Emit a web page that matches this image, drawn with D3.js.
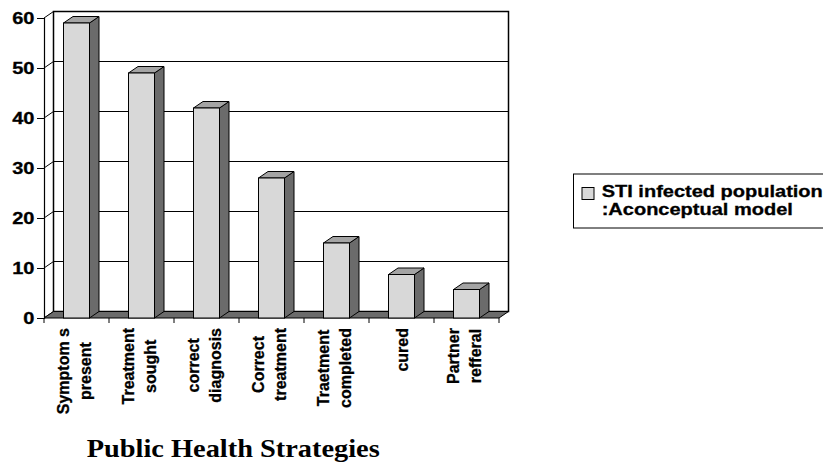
<!DOCTYPE html>
<html>
<head>
<meta charset="utf-8">
<script src="https://cdn.jsdelivr.net/npm/d3@7"></script>
<style>
  html, body { margin: 0; padding: 0; background: #fff; }
  svg { display: block; }
</style>
</head>
<body>
<svg id="chart" width="823" height="462"></svg>
<script>
// ---- data ----
const categories = ["Symptoms present", "Treatment sought", "correct diagnosis", "Correct treatment", "Traetment completed", "cured", "Partner refferal"];
const categoryLines = [["Symptom s", "present"], ["Treatment", "sought"], ["correct", "diagnosis"], ["Correct", "treatment"], ["Traetment", "completed"], ["cured"], ["Partner", "refferal"]];
const values = [59, 49, 42, 28, 15, 8.7, 5.7];
const yTicks = [0, 10, 20, 30, 40, 50, 60];
const seriesName = ["STI infected population", ":Aconceptual model"];
const axisTitle = "Public Health Strategies";

// ---- layout ----
const svg = d3.select("#chart");
const sans = "'Liberation Sans', Arial, sans-serif";
const serif = "'Palatino Linotype', 'Book Antiqua', Palatino, 'Liberation Serif', serif";
const DX = 9.5, DY = 6.5;        // 3-D depth offset
const x = d3.scaleBand().domain(categories).range([44, 499]).paddingInner(0).paddingOuter(0);
const y = d3.scaleLinear().domain([0, 60]).range([318, 18]);
const barW = x.bandwidth() * 0.4;
const cFront = "#d8d8d8", cTop = "#a4a4a4", cSide = "#6b6b6b", cFloor = "#6b6b6b";

const x0 = x.range()[0], x1 = x.range()[1];
const y0 = y(0), yTop = y(60);

// back wall
svg.append("rect")
  .attr("x", x0 + DX).attr("y", yTop - DY)
  .attr("width", x1 - x0).attr("height", y0 - yTop)
  .attr("fill", "#fff");

// grid on back wall and side wall
const grid = svg.append("g").attr("stroke", "#000").attr("stroke-width", 1).attr("fill", "none");
yTicks.filter(t => t > 0 && t < 60).forEach(t => {
  grid.append("line").attr("x1", x0 + DX).attr("x2", x1 + DX)
    .attr("y1", y(t) - DY).attr("y2", y(t) - DY);
});
yTicks.forEach(t => {
  grid.append("line").attr("x1", x0).attr("x2", x0 + DX)
    .attr("y1", y(t)).attr("y2", y(t) - DY);
});

// back wall border
svg.append("rect")
  .attr("x", x0 + DX).attr("y", yTop - DY)
  .attr("width", x1 - x0).attr("height", y0 - yTop)
  .attr("fill", "none").attr("stroke", "#000").attr("stroke-width", 1.5);
// side wall back edge
svg.append("line").attr("x1", x0 + DX).attr("x2", x0 + DX)
  .attr("y1", yTop - DY).attr("y2", y0 - DY).attr("stroke", "#000").attr("stroke-width", 1);

// floor
svg.append("polygon")
  .attr("points", [[x0, y0], [x0 + DX, y0 - DY], [x1 + DX, y0 - DY], [x1, y0]].map(p => p.join(",")).join(" "))
  .attr("fill", cFloor).attr("stroke", "#000").attr("stroke-width", 1).attr("stroke-linejoin", "round");

// front y axis
const yAxis = d3.axisLeft(y).tickValues(yTicks).tickSize(7).tickPadding(2).tickFormat(d3.format("d"));
const gy = svg.append("g").attr("transform", `translate(${x0},0)`).call(yAxis);
gy.select(".domain").attr("stroke", "#000").attr("stroke-width", 1.2);
gy.selectAll(".tick line").attr("stroke", "#000");
gy.selectAll(".tick text")
  .attr("font-family", sans).attr("font-weight", "bold").attr("font-size", 16).attr("fill", "#000")
  .attr("stroke", "#000").attr("stroke-width", 0.3)
  .attr("x", 0).attr("dy", null).attr("y", 0).attr("dominant-baseline", "central")
  .attr("transform", "translate(-9.5,0) scale(1.25,1)");

// bars
const bars = svg.append("g").selectAll("g").data(values).join("g");
bars.each(function (v, i) {
  const g = d3.select(this);
  const bx = x(categories[i]) + (x.bandwidth() - barW) / 2;
  const by = y(v);
  g.append("polygon")
    .attr("points", [[bx + barW, by], [bx + barW + DX, by - DY], [bx + barW + DX, y0 - DY], [bx + barW, y0]].map(p => p.join(",")).join(" "))
    .attr("fill", cSide).attr("stroke", "#000").attr("stroke-width", 1).attr("stroke-linejoin", "round");
  g.append("polygon")
    .attr("points", [[bx, by], [bx + DX, by - DY], [bx + barW + DX, by - DY], [bx + barW, by]].map(p => p.join(",")).join(" "))
    .attr("fill", cTop).attr("stroke", "#000").attr("stroke-width", 1).attr("stroke-linejoin", "round");
  g.append("rect")
    .attr("x", bx).attr("y", by).attr("width", barW).attr("height", y0 - by)
    .attr("fill", cFront).attr("stroke", "#000").attr("stroke-width", 1);
});

// x axis ticks (category boundaries)
const xt = svg.append("g").attr("stroke", "#000").attr("stroke-width", 1);
const bounds = categories.map(c => x(c)).concat([x1]);
bounds.forEach(bx => {
  xt.append("line").attr("x1", bx).attr("x2", bx).attr("y1", y0).attr("y2", y0 + 5);
});

// x category labels (rotated)
const labTop = 328;
const lab = svg.append("g")
  .attr("font-family", sans).attr("font-weight", "bold").attr("font-size", 16).attr("fill", "#000")
  .attr("stroke", "#000").attr("stroke-width", 0.3);
categoryLines.forEach((lines, i) => {
  const cx = x(categories[i]) + x.bandwidth() / 2;
  const g = lab.append("g").attr("transform", `translate(${cx},${labTop}) rotate(-90)`);
  const texts = lines.map(s => g.append("text").attr("text-anchor", "middle").text(s));
  const L = d3.max(texts, t => t.node().getComputedTextLength());
  const offs = lines.length === 1 ? [6] : [-7.5, 14.5];
  texts.forEach((t, k) => t.attr("x", -L / 2).attr("y", offs[k]));
});

// axis title
svg.append("text")
  .attr("x", 86.7).attr("y", 456.5)
  .attr("font-family", serif).attr("font-weight", "bold").attr("font-size", 25).attr("fill", "#000")
  .attr("textLength", 293).attr("lengthAdjust", "spacingAndGlyphs")
  .text(axisTitle);

// legend
const lg = svg.append("g");
lg.append("rect").attr("x", 573.5).attr("y", 174).attr("width", 280).attr("height", 54)
  .attr("fill", "#fff").attr("stroke", "#000").attr("stroke-width", 1);
lg.append("rect").attr("x", 582).attr("y", 187.5).attr("width", 12).attr("height", 12)
  .attr("fill", cFront).attr("stroke", "#000").attr("stroke-width", 1);
seriesName.forEach((s, k) => {
  lg.append("text")
    .attr("transform", `translate(601.7,${196.7 + k * 18.3}) scale(1.25,1)`)
    .attr("font-family", sans).attr("font-weight", "bold").attr("font-size", 16).attr("fill", "#000")
    .attr("stroke", "#000").attr("stroke-width", 0.3)
    .text(s);
});
</script>
</body>
</html>
